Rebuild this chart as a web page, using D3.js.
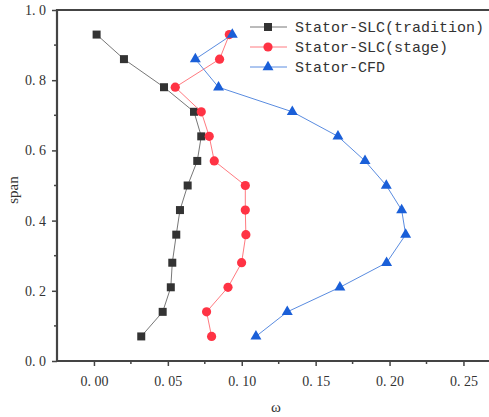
<!DOCTYPE html>
<html><head><meta charset="utf-8">
<script src="https://cdn.jsdelivr.net/npm/d3@7"></script>
<style>body{margin:0;background:#fff;}svg{display:block;}
.serif{font-family:"Liberation Serif","DejaVu Serif",serif;}
.mono{font-family:"Liberation Mono","DejaVu Sans Mono",monospace;}
</style>
</head><body>
<svg id="c" width="489" height="417"></svg>
<script>
const spans = [0.07,0.14,0.21,0.28,0.36,0.43,0.50,0.57,0.64,0.71,0.78,0.86,0.93];
const tradition = [0.032,0.0465,0.052,0.053,0.0557,0.0582,0.0634,0.0699,0.0726,0.0677,0.0474,0.0203,0.0018];
const stage = [0.0796,0.0762,0.0907,0.0999,0.1028,0.1024,0.1024,0.0814,0.078,0.0726,0.055,0.085,0.0916];
const cfd = [0.1096,0.1308,0.1664,0.198,0.2109,0.2082,0.1978,0.1834,0.1651,0.1342,0.0843,0.0686,0.0936];
const seriesNames = ["Stator-SLC(tradition)","Stator-SLC(stage)","Stator-CFD"];
const xTicks = [0,0.05,0.10,0.15,0.20,0.25];
const yTicks = [0,0.2,0.4,0.6,0.8,1.0];

const svg = d3.select("#c");
const x = d3.scaleLinear().domain([-0.025,0.275]).range([57,500.4]);
const y = d3.scaleLinear().domain([0,1]).range([361,10]);
const axisColor = "#444";

const series = [
  {name:seriesNames[0], vals:tradition, color:"#333333", line:"#777", shape:"square"},
  {name:seriesNames[1], vals:stage, color:"#ff3344", line:"#ff7a80", shape:"circle"},
  {name:seriesNames[2], vals:cfd, color:"#1a5fd8", line:"#5a8ce0", shape:"triangle"}
];

function drawMarker(g, shape, color){
  if(shape==="square") g.append("rect").attr("x",-4).attr("y",-4).attr("width",8).attr("height",8).attr("fill",color);
  else if(shape==="circle") g.append("circle").attr("r",4.6).attr("fill",color);
  else g.append("path").attr("d",d3.symbol().type(d3.symbolTriangle).size(52)()).attr("fill",color);
}

series.forEach(s=>{
  const pts = spans.map((sp,i)=>[s.vals[i],sp]);
  svg.append("path").datum(pts)
    .attr("d",d3.line().x(d=>x(d[0])).y(d=>y(d[1])))
    .attr("fill","none").attr("stroke",s.line).attr("stroke-width",1);
  pts.forEach(p=>{
    const g = svg.append("g").attr("transform",`translate(${x(p[0])},${y(p[1])})`);
    drawMarker(g,s.shape,s.color);
  });
});

const xAxis = d3.axisBottom(x).tickValues(xTicks).tickSize(5).tickFormat(d=>d3.format(".2f")(d).replace(".",". "));
const gx = svg.append("g").attr("transform","translate(0,361)").call(xAxis);
gx.attr("font-family",null).attr("font-size",null);
gx.select(".domain").remove();
gx.selectAll(".tick line").attr("stroke",axisColor).attr("stroke-width",1.5);
gx.selectAll(".tick text").attr("class","serif").style("font-size","14px").attr("fill","#333").attr("dy","1.2em");
svg.append("g").selectAll("line").data([0.025,0.075,0.125,0.175,0.225]).join("line")
  .attr("x1",d=>x(d)).attr("x2",d=>x(d)).attr("y1",361).attr("y2",364).attr("stroke",axisColor).attr("stroke-width",1.5);

const yAxis = d3.axisLeft(y).tickValues(yTicks).tickSize(5).tickFormat(d=>d3.format(".1f")(d).replace(".",". "));
const gy = svg.append("g").attr("transform","translate(57,0)").call(yAxis);
gy.attr("font-family",null).attr("font-size",null);
gy.select(".domain").remove();
gy.selectAll(".tick line").attr("stroke",axisColor).attr("stroke-width",1.5);
gy.selectAll(".tick text").attr("class","serif").style("font-size","14px").attr("fill","#333").attr("x",-11);
svg.append("g").selectAll("line").data([0.1,0.3,0.5,0.7,0.9]).join("line")
  .attr("x1",54).attr("x2",57).attr("y1",d=>y(d)).attr("y2",d=>y(d)).attr("stroke",axisColor).attr("stroke-width",1.5);

svg.append("line").attr("x1",57).attr("x2",489).attr("y1",10).attr("y2",10).attr("stroke",axisColor).attr("stroke-width",2.2);
svg.append("line").attr("x1",57).attr("x2",489).attr("y1",361).attr("y2",361).attr("stroke",axisColor).attr("stroke-width",2.2);
svg.append("line").attr("x1",57).attr("x2",57).attr("y1",9).attr("y2",362).attr("stroke",axisColor).attr("stroke-width",2.2);

svg.append("text").attr("class","serif").attr("x",276).attr("y",412).attr("text-anchor","middle").style("font-size","15px").attr("fill","#333").text("ω");
svg.append("text").attr("class","serif").attr("transform","translate(18,190) rotate(-90)").attr("text-anchor","middle").style("font-size","15px").attr("fill","#333").text("span");

series.forEach((s,i)=>{
  const ly = 27 + i*20;
  svg.append("line").attr("x1",250).attr("x2",287).attr("y1",ly).attr("y2",ly).attr("stroke",s.line).attr("stroke-width",1);
  const g = svg.append("g").attr("transform",`translate(268,${ly})`);
  drawMarker(g,s.shape,s.color);
  svg.append("text").attr("class","mono").attr("x",295).attr("y",ly+5).style("font-size","15px").attr("fill","#333")
    .attr("textLength", s.name.length*9).attr("lengthAdjust","spacingAndGlyphs").text(s.name);
});
</script>
</body></html>
